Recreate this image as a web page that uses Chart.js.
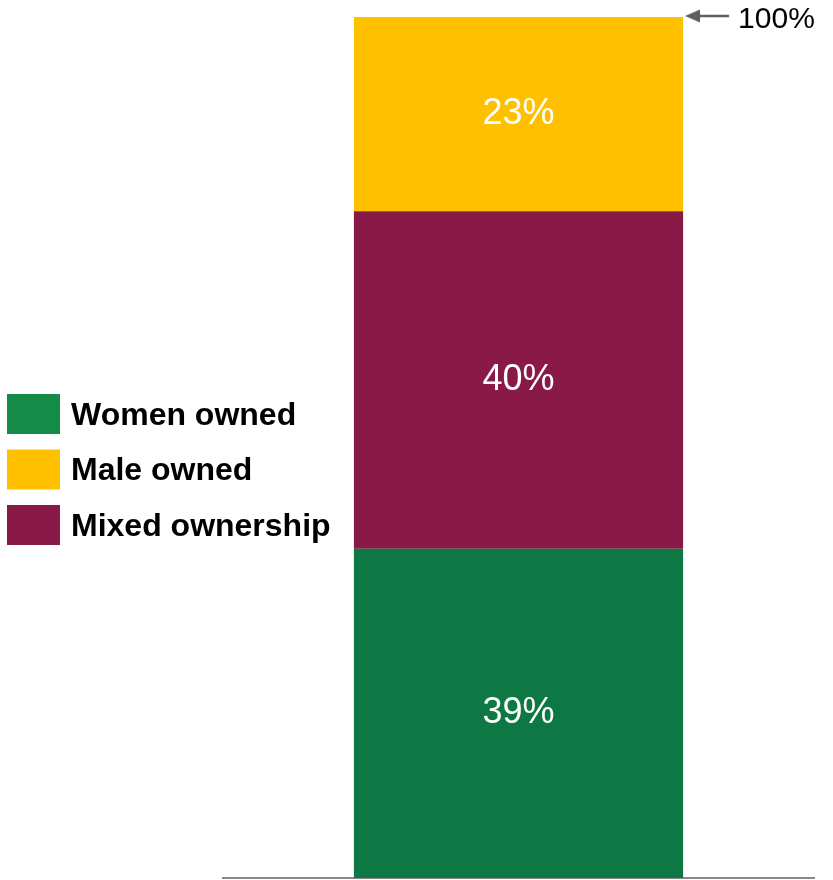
<!DOCTYPE html>
<html>
<head>
<meta charset="utf-8">
<script src="https://cdn.jsdelivr.net/npm/chart.js@4/dist/chart.umd.min.js"></script>
<style>
  html, body { margin: 0; padding: 0; background: #fff; }
  #wrap { width: 833px; height: 880px; }
</style>
</head>
<body>
<div id="wrap"><canvas id="ownershipChart" width="833" height="880"></canvas></div>
<script>
// ownership shares (%), stacked bottom to top
const categories = ["Ownership"];
const womenOwned = [39];
const mixedOwnership = [40];
const maleOwned = [23];
const totalLabel = "100%";

// legend order differs from stacking order
const legendItems = [
  { text: "Women owned", color: "#148B47" },
  { text: "Male owned", color: "#FFC000" },
  { text: "Mixed ownership", color: "#891946" }
];

const FONT = "'Liberation Sans', Arial, sans-serif";

// white percentage inside each segment
const segmentLabels = {
  id: "segmentLabels",
  afterDatasetsDraw(chart) {
    const ctx = chart.ctx;
    ctx.save();
    ctx.fillStyle = "#fff";
    ctx.font = "36px " + FONT;
    ctx.textAlign = "center";
    ctx.textBaseline = "middle";
    chart.data.datasets.forEach((ds, i) => {
      chart.getDatasetMeta(i).data.forEach((bar, j) => {
        const mid = (bar.y + bar.base) / 2;
        ctx.fillText(ds.data[j] + "%", bar.x, mid);
      });
    });
    ctx.restore();
  }
};

// arrow pointing at the top of the stack, plus the custom legend on the left
const extras = {
  id: "extras",
  afterDraw(chart) {
    const ctx = chart.ctx;
    const meta = chart.getDatasetMeta(chart.data.datasets.length - 1);
    const top = meta.data[0];
    const right = top.x + top.width / 2;
    const y = top.y - 1;

    ctx.save();
    ctx.strokeStyle = "#606060";
    ctx.fillStyle = "#606060";
    ctx.lineWidth = 2.5;
    ctx.beginPath();
    ctx.moveTo(right + 14, y);
    ctx.lineTo(right + 46, y);
    ctx.stroke();
    ctx.beginPath();
    ctx.moveTo(right + 2, y);
    ctx.lineTo(right + 17, y - 6.5);
    ctx.lineTo(right + 17, y + 6.5);
    ctx.closePath();
    ctx.fill();

    ctx.fillStyle = "#000";
    ctx.font = "30px " + FONT;
    ctx.textAlign = "left";
    ctx.textBaseline = "middle";
    ctx.fillText(totalLabel, right + 55, y + 4);

    ctx.font = "bold 32px " + FONT;
    legendItems.forEach((item, i) => {
      const boxTop = 394 + i * 55.5;
      ctx.fillStyle = item.color;
      ctx.fillRect(7, boxTop, 53, 40);
      ctx.fillStyle = "#000";
      ctx.fillText(item.text, 71, boxTop + 22);
    });
    ctx.restore();
  }
};

new Chart(document.getElementById("ownershipChart"), {
  type: "bar",
  data: {
    labels: categories,
    datasets: [
      { label: "Women owned", data: womenOwned, backgroundColor: "#0E7844" },
      { label: "Mixed ownership", data: mixedOwnership, backgroundColor: "#891946" },
      { label: "Male owned", data: maleOwned, backgroundColor: "#FFC000" }
    ]
  },
  options: {
    responsive: false,
    animation: false,
    layout: { padding: { left: 223, right: 19, top: 17, bottom: 2 } },
    datasets: { bar: { barPercentage: 0.557, categoryPercentage: 1.0, borderWidth: 0 } },
    plugins: { legend: { display: false }, tooltip: { enabled: false } },
    scales: {
      x: {
        stacked: true,
        grid: { display: false, drawTicks: false },
        ticks: { display: false },
        border: { display: true, color: "#888", width: 2 }
      },
      y: {
        stacked: true,
        display: false,
        min: 0,
        max: womenOwned[0] + mixedOwnership[0] + maleOwned[0]
      }
    }
  },
  plugins: [segmentLabels, extras]
});
</script>
</body>
</html>
